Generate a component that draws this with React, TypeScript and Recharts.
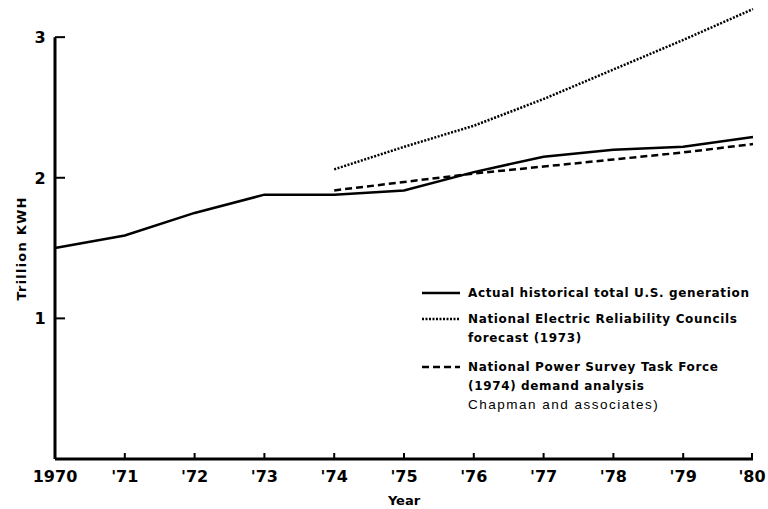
import { LineChart, Line, XAxis, YAxis, ReferenceLine } from 'recharts'

// U.S. electricity generation, trillion kWh
const YEARS = [1970, 1971, 1972, 1973, 1974, 1975, 1976, 1977, 1978, 1979, 1980]
const ACTUAL = [1.5, 1.59, 1.75, 1.88, 1.88, 1.91, 2.04, 2.15, 2.2, 2.22, 2.29]

// both projections start in 1974
const PROJECTION_START = 1974
const NERC_FORECAST = [2.06, 2.22, 2.37, 2.56, 2.77, 2.98, 3.2]
const NPS_DEMAND = [1.91, 1.97, 2.03, 2.08, 2.13, 2.18, 2.24]

const Y_TICKS = [1, 2, 3]

// legend rows: top offset of each row inside the legend box
const LEGEND = [
  { top: 0, lines: ['Actual historical total U.S. generation'], dash: undefined as string | undefined },
  { top: 26, lines: ['National Electric Reliability Councils', 'forecast (1973)'], dash: '2 1.5' },
  { top: 74, lines: ['National Power Survey Task Force', '(1974) demand analysis'], dash: '7 4' },
]

const FONT = '"DejaVu Sans", sans-serif'

const data = YEARS.map((year, i) => {
  const j = year - PROJECTION_START
  return {
    year,
    actual: ACTUAL[i],
    nerc: j >= 0 ? NERC_FORECAST[j] : null,
    nps: j >= 0 ? NPS_DEMAND[j] : null,
  }
})

const yearLabel = (y: number) => (y === 1970 ? '1970' : `'${String(y).slice(2)}`)

function XTick({ x, y, payload }: any) {
  return (
    <g>
      {payload.value !== 1970 && <line x1={x} y1={y} x2={x} y2={y - 6} stroke="#000" strokeWidth={2} />}
      <text x={x} y={y + 23} textAnchor="middle" fontFamily={FONT} fontWeight="bold" fontSize={16} fill="#000">
        {yearLabel(payload.value)}
      </text>
    </g>
  )
}

function YTick({ x, y, payload }: any) {
  return (
    <g>
      <line x1={x} y1={y} x2={x + 10} y2={y} stroke="#000" strokeWidth={2} />
      <text x={x - 15} y={y + 6} textAnchor="middle" fontFamily={FONT} fontWeight="bold" fontSize={16} fill="#000">
        {payload.value}
      </text>
    </g>
  )
}

function YLabel({ viewBox }: any) {
  const cy = viewBox.y + viewBox.height / 2 + 18
  return (
    <text
      x={21}
      y={cy}
      transform={`rotate(-90 21 ${cy})`}
      textAnchor="middle"
      dominantBaseline="central"
      fontFamily={FONT}
      fontWeight="bold"
      fontSize={13}
      letterSpacing={1.2}
      fill="#000"
    >
      Trillion KWH
    </text>
  )
}

function ChartLegend() {
  return (
    <div style={{ position: 'absolute', left: 422, top: 284, fontFamily: FONT, fontWeight: 'bold', fontSize: 12, letterSpacing: 0.65, color: '#000' }}>
      {LEGEND.map((item, i) => (
        <div key={i} style={{ position: 'absolute', top: item.top, left: 0, display: 'flex', alignItems: 'flex-start', lineHeight: '18.5px', whiteSpace: 'nowrap' }}>
          <svg width={38} height={18} style={{ marginRight: 8, flexShrink: 0 }}>
            <line x1={0} y1={9} x2={38} y2={9} stroke="#000" strokeWidth={2.5} strokeDasharray={item.dash} />
          </svg>
          <div>
            {item.lines.map((t) => (
              <div key={t}>{t}</div>
            ))}
          </div>
        </div>
      ))}
      <div
        style={{
          position: 'absolute',
          top: 112,
          left: 46,
          whiteSpace: 'nowrap',
          lineHeight: '18px',
          fontFamily: '"Liberation Sans", Arial, sans-serif',
          fontWeight: 'normal',
          fontSize: 13.5,
          letterSpacing: 1.5,
        }}
      >
        Chapman and associates)
      </div>
    </div>
  )
}

export default function App() {
  return (
    <div style={{ position: 'absolute', left: 0, top: 0, width: 768, height: 509, background: '#fff' }}>
      <LineChart width={768} height={509} data={data} margin={{ top: 2, right: 15, bottom: 0, left: 0 }}>
        <XAxis
          dataKey="year"
          type="number"
          domain={[1970, 1980]}
          ticks={YEARS}
          height={50}
          tickSize={0}
          tickMargin={0}
          tickLine={false}
          tick={<XTick />}
          axisLine={{ stroke: '#000', strokeWidth: 3 }}
          label={{ value: 'Year', position: 'insideBottom', offset: 4, fill: '#000', fontFamily: FONT, fontWeight: 'bold', fontSize: 13 }}
        />
        <YAxis
          domain={[0, 3.25]}
          ticks={Y_TICKS}
          width={55}
          tickSize={0}
          tickMargin={0}
          tickLine={false}
          axisLine={false}
          tick={<YTick />}
          label={{ content: <YLabel /> }}
        />
        <ReferenceLine segment={[{ x: 1970, y: 0 }, { x: 1970, y: 3 }]} stroke="#000" strokeWidth={3} />
        <Line dataKey="actual" stroke="#000" strokeWidth={2.5} dot={false} isAnimationActive={false} />
        <Line dataKey="nerc" stroke="#000" strokeWidth={2.5} strokeDasharray="2 1.5" dot={false} isAnimationActive={false} />
        <Line dataKey="nps" stroke="#000" strokeWidth={2.5} strokeDasharray="7 4" dot={false} isAnimationActive={false} />
      </LineChart>
      <ChartLegend />
    </div>
  )
}
